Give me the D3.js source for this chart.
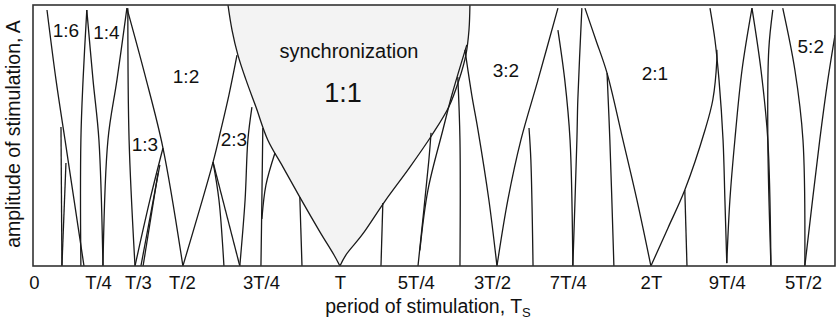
<!DOCTYPE html>
<html><head><meta charset="utf-8">
<script src="https://cdn.jsdelivr.net/npm/d3@7"></script>
<style>
body{margin:0;background:#fff}
svg{display:block}
text{font-family:"Liberation Sans",Arial,Helvetica,sans-serif;fill:#111}
</style>
</head><body>
<svg id="chart" width="837" height="327"></svg>
<script>
// ---- axis ticks (period in units of T) ----
const tickValues = [0.016, 0.222, 0.35, 0.492, 0.746, 1.0, 1.244, 1.489, 1.733, 2.0, 2.244, 2.489];
const tickLabels = ["0", "T/4", "T/3", "T/2", "3T/4", "T", "5T/4", "3T/2", "7T/4", "2T", "9T/4", "5T/2"];

// ---- 1:1 synchronization tongue boundaries [period, amplitude] ----
const syncLeft = [[0.640,1.0],[0.653,0.904],[0.672,0.808],[0.698,0.713],[0.730,0.609],[0.768,0.483],[0.817,0.379],[0.871,0.264],[0.936,0.130],[0.981,0.042],[1.0,0.0]];
const syncRight = [[1.418,1.0],[1.415,0.904],[1.405,0.808],[1.383,0.713],[1.350,0.609],[1.296,0.502],[1.225,0.379],[1.145,0.249],[1.071,0.119],[1.019,0.042],[1.0,0.0]];

// ---- other tongue boundaries [period, amplitude] ----
const tongue16Left = [[0.058,0.981],[0.087,0.713],[0.116,0.483],[0.145,0.253],[0.177,0.0]];
const lineA = [[0.103,0.533],[0.106,0.0]];
const lineB = [[0.119,0.395],[0.106,0.0]];
const tongue16Right = [[0.186,0.981],[0.174,0.713],[0.167,0.483],[0.167,0.0]];
const tongue14Left = [[0.186,0.981],[0.206,0.713],[0.225,0.483],[0.238,0.0]];
const tongue14Right = [[0.315,0.988],[0.283,0.713],[0.254,0.483],[0.238,0.0]];
const tongue13Left = [[0.318,0.988],[0.322,0.483],[0.341,0.0]];
const tongue12Left = [[0.315,0.988],[0.373,0.732],[0.431,0.452],[0.495,0.0]];
const tongue13Right = [[0.341,0.0],[0.389,0.253],[0.431,0.452]];
const lineI = [[0.360,0.0],[0.421,0.387]];
const lineJ = [[0.367,0.0],[0.415,0.356]];
const tongue12Right = [[0.495,0.0],[0.592,0.398],[0.617,0.521],[0.643,0.655],[0.669,0.808]];
const tongue23Left = [[0.592,0.398],[0.678,0.0]];
const lineM = [[0.592,0.398],[0.611,0.253],[0.627,0.0]];
const tongue23Right = [[0.678,0.0],[0.695,0.253],[0.704,0.483],[0.717,0.609]];
const lineO = [[0.752,0.529],[0.749,0.253],[0.746,0.0]];
const lineP = [[0.791,0.433],[0.762,0.310],[0.749,0.180]];
const lineQ = [[0.871,0.264],[0.878,0.0]];
const lineR = [[1.138,0.241],[1.132,0.0]];
const lineU1 = [[1.293,0.510],[1.286,0.406],[1.251,0.0]];
const lineU2 = [[1.408,0.847],[1.360,0.655],[1.331,0.521],[1.283,0.291],[1.257,0.060]];
const lineW = [[1.379,0.724],[1.386,0.483],[1.386,0.0]];
const tongue32Left = [[1.402,0.828],[1.424,0.655],[1.444,0.521],[1.479,0.253],[1.505,0.0]];
const tongue32Right = [[1.505,0.0],[1.540,0.253],[1.582,0.483],[1.637,0.713],[1.701,0.988]];
const lineY = [[1.608,0.529],[1.614,0.406],[1.621,0.0]];
const tongue74Left = [[1.701,0.904],[1.723,0.713],[1.740,0.483],[1.749,0.0]];
const tongue74Right = [[1.778,0.988],[1.765,0.636],[1.762,0.483],[1.749,0.0]];
const tongue21Left = [[1.788,0.988],[1.823,0.866],[1.859,0.739],[1.910,0.483],[1.955,0.253],[2.0,0.0]];
const lineZ2 = [[1.859,0.739],[1.868,0.483],[1.881,0.0]];
const tongue21Right = [[2.0,0.0],[2.055,0.146],[2.109,0.291],[2.174,0.521],[2.199,0.636],[2.212,0.789],[2.212,0.828]];
const lineZ5 = [[2.109,0.291],[2.116,0.0]];
const tongue94Left = [[2.190,0.988],[2.206,0.866],[2.219,0.713],[2.232,0.483],[2.238,0.253],[2.244,0.011]];
const tongue94Right = [[2.325,0.988],[2.293,0.751],[2.270,0.483],[2.254,0.253],[2.244,0.011]];
const lineQ2 = [[2.325,0.988],[2.354,0.751],[2.376,0.483],[2.386,0.0]];
const lineR2 = [[2.392,0.981],[2.379,0.828],[2.376,0.483],[2.386,0.0]];
const tongue52Left = [[2.424,0.988],[2.463,0.751],[2.489,0.483],[2.495,0.0]];
const tongue52Right = [[2.592,0.885],[2.569,0.713],[2.543,0.483],[2.495,0.0]];

const boundaries = [tongue16Left, lineA, lineB, tongue16Right, tongue14Left, tongue14Right,
  tongue13Left, tongue12Left, tongue13Right, lineI, lineJ, tongue12Right, tongue23Left, lineM,
  tongue23Right, lineO, lineP, lineQ, lineR, lineU1, lineU2, lineW, tongue32Left, tongue32Right,
  lineY, tongue74Left, tongue74Right, tongue21Left, lineZ2, tongue21Right, lineZ5, tongue94Left,
  tongue94Right, lineQ2, lineR2, tongue52Left, tongue52Right, syncLeft, syncRight];

// ---- region labels ----
const regionNames = ["1:6", "1:4", "1:2", "1:3", "2:3", "3:2", "2:1", "5:2"];
const regionT = [0.119, 0.249, 0.505, 0.373, 0.659, 1.534, 2.013, 2.514];
const regionA = [0.877, 0.870, 0.701, 0.441, 0.460, 0.724, 0.713, 0.816];
const syncText = ["synchronization", "1:1"];
const syncT = [1.029, 1.010];
const syncA = [0.797, 0.628];

const svg = d3.select("#chart");
const x = d3.scaleLinear().domain([0.013, 2.592]).range([33, 835]);
const y = d3.scaleLinear().domain([0, 1]).range([266, 5]);

svg.append("clipPath").attr("id","clip").append("rect")
  .attr("x", x.range()[0]).attr("y", y.range()[1])
  .attr("width", x.range()[1]-x.range()[0]).attr("height", y.range()[0]-y.range()[1]);

const plot = svg.append("g").attr("clip-path","url(#clip)");

const curve = d3.line().x(d=>x(d[0])).y(d=>y(d[1])).curve(d3.curveCatmullRom.alpha(0.5));

// sync fill: left curve (top->tip), right curve (tip->top), closed along the top
const areaPath = curve(syncLeft) + "L" + curve(syncRight.slice().reverse()).slice(1) +
  "L" + x(syncRight[0][0]) + "," + y(1.05) + "L" + x(syncLeft[0][0]) + "," + y(1.05) + "Z";
plot.append("path").attr("d", areaPath).attr("fill", "#f3f3f3").attr("stroke","none");

plot.selectAll("path.bd").data(boundaries).enter().append("path")
  .attr("class","bd").attr("d", curve)
  .attr("fill","none").attr("stroke","#1a1a1a").attr("stroke-width",1.3);

// frame
svg.append("rect").attr("x", x.range()[0]).attr("y", y.range()[1])
  .attr("width", x.range()[1]-x.range()[0]).attr("height", y.range()[0]-y.range()[1])
  .attr("fill","none").attr("stroke","#333").attr("stroke-width",1.6);

// region labels
svg.selectAll("text.rl").data(regionNames).enter().append("text")
  .attr("class","rl").attr("x",(d,i)=>x(regionT[i])).attr("y",(d,i)=>y(regionA[i]))
  .attr("text-anchor","middle").attr("font-size",19).text(d=>d);
svg.selectAll("text.sl").data(syncText).enter().append("text")
  .attr("class","sl").attr("x",(d,i)=>x(syncT[i])).attr("y",(d,i)=>y(syncA[i]))
  .attr("text-anchor","middle").attr("font-size",(d,i)=>i===0?20:27).text(d=>d);

// x axis
const xAxis = d3.axisBottom(x).tickValues(tickValues).tickFormat((d,i)=>tickLabels[i]).tickSize(0).tickPadding(10);
const gx = svg.append("g").attr("transform",`translate(0,${y(0)})`).call(xAxis);
gx.select(".domain").remove();
gx.selectAll("text").attr("font-size",18.5).attr("font-family","'Liberation Sans',Arial,sans-serif").attr("fill","#111");

// axis titles
const xt = svg.append("text").attr("x", 428).attr("y", 313).attr("text-anchor","middle").attr("font-size",19.5);
xt.append("tspan").text("period of stimulation, T");
xt.append("tspan").attr("font-size",13).attr("dy",4).text("S");

svg.append("text").attr("transform","translate(20,134) rotate(-90)")
  .attr("text-anchor","middle").attr("font-size",19.5).text("amplitude of stimulation, A");
</script>
</body></html>
